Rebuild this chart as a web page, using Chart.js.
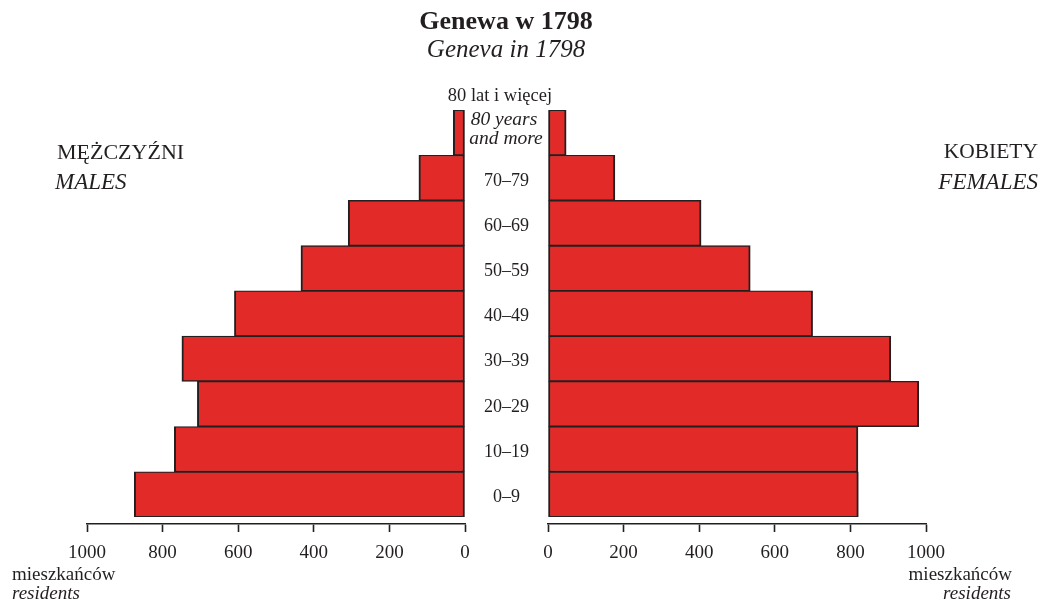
<!DOCTYPE html>
<html>
<head>
<meta charset="utf-8">
<script src="https://cdn.jsdelivr.net/npm/chart.js@4"></script>
<style>
  html, body { margin: 0; padding: 0; background: #fff; }
  #wrap { position: relative; width: 1043px; height: 601px; overflow: hidden; font-family: "Liberation Serif", "DejaVu Serif", serif; color: #231f20; }
  .t { position: absolute; line-height: 1; white-space: nowrap; }
  .c { transform: translate(-50%, -50%); }
  .l { transform: translate(0, -50%); }
  .r { transform: translate(-100%, -50%); }
  canvas { position: absolute; top: 0; }
</style>
</head>
<body>
<div id="wrap">
  <canvas id="left" style="left:0px;"></canvas>
  <canvas id="right" style="left:464px;"></canvas>

  <div class="t c" style="left:506px; top:21px; font-size:26px; font-weight:bold;">Genewa w 1798</div>
  <div class="t c" style="left:506px; top:48px; font-size:25px; font-style:italic;">Geneva in 1798</div>

  <div class="t c" style="left:500px; top:95px; font-size:18.5px;">80 lat i więcej</div>
  <div class="t c" style="left:504px; top:119px; font-size:19.5px; font-style:italic;">80 years</div>
  <div class="t c" style="left:506px; top:138px; font-size:19.5px; font-style:italic;">and more</div>

  <div class="t l" style="left:57px; top:152px; font-size:22px;">MĘŻCZYŹNI</div>
  <div class="t l" style="left:55px; top:181px; font-size:23px; font-style:italic;">MALES</div>
  <div class="t r" style="left:1038px; top:152px; font-size:21.5px;">KOBIETY</div>
  <div class="t r" style="left:1038px; top:181px; font-size:23px; font-style:italic;">FEMALES</div>

  <div class="t l" style="left:12px; top:573px; font-size:19px;">mieszkańców</div>
  <div class="t l" style="left:12px; top:592px; font-size:19px; font-style:italic;">residents</div>
  <div class="t r" style="left:1012px; top:573px; font-size:19px;">mieszkańców</div>
  <div class="t r" style="left:1011px; top:592px; font-size:19px; font-style:italic;">residents</div>
</div>
<script>
// Data (top row first)
const ageGroups = ['80+', '70–79', '60–69', '50–59', '40–49', '30–39', '20–29', '10–19', '0–9'];
const males   = [31, 122, 309, 434, 610, 749, 708, 769, 875];
const females = [48, 177, 405, 535, 700, 907, 981, 820, 821];
const axisTicks = [0, 200, 400, 600, 800, 1000];

const INK = '#231f20';
const RED = '#e22b28';
const FONT = 'Liberation Serif';

function makeChart(id, width, data, side) {
  const cv = document.getElementById(id);
  cv.width = width; cv.height = 601;
  cv.style.width = width + 'px'; cv.style.height = '601px';
  const isLeft = side === 'left';
  return new Chart(cv, {
    type: 'bar',
    data: {
      labels: ageGroups,
      datasets: [{
        data: data,
        backgroundColor: RED,
        borderColor: INK,
        borderWidth: { top: 1.3, bottom: 1.3, left: 2, right: 2 },
        borderSkipped: false,
        barPercentage: 1,
        categoryPercentage: 1,
        xAxisID: 'x',
        yAxisID: 'y'
      }]
    },
    options: {
      indexAxis: 'y',
      responsive: false,
      animation: false,
      devicePixelRatio: 1,
      layout: {
        padding: isLeft
          ? { left: 87, right: 35, top: 110, bottom: 27 }
          : { left: 0, right: 117, top: 110, bottom: 27 }
      },
      plugins: { legend: { display: false }, tooltip: { enabled: false }, title: { display: false } },
      scales: {
        x: {
          type: 'linear',
          position: 'bottom',
          weight: 1,
          reverse: isLeft,
          min: 0,
          max: 1000,
          afterBuildTicks: (s) => { s.ticks = axisTicks.map(v => ({ value: v })); },
          afterFit: (s) => { s.height = 50; },
          grid: { display: true, drawOnChartArea: false, drawTicks: true, tickLength: 8, tickWidth: 1.6, tickColor: INK },
          border: { display: true, color: INK, width: 1.6 },
          ticks: {
            color: INK, font: { family: FONT, size: 19 }, padding: 10, maxRotation: 0, autoSkip: false,
            callback: (v) => String(v)
          }
        },
        spacer: {
          type: 'linear',
          position: 'bottom',
          weight: 0,
          display: true,
          afterFit: (s) => { s.height = 7; },
          grid: { display: false, drawTicks: false },
          border: { display: false },
          ticks: { display: false }
        },
        y: {
          type: 'category',
          position: 'left',
          display: !isLeft,
          afterFit: (s) => { s.width = isLeft ? 0 : 84; },
          grid: { display: false, drawTicks: false },
          border: { display: false },
          ticks: {
            color: INK,
            font: { family: FONT, size: 18 },
            crossAlign: 'center',
            padding: 19,
            labelOffset: 3,
            autoSkip: false,
            callback: (v, i) => (i === 0 ? '' : ageGroups[i])
          }
        }
      }
    }
  });
}

makeChart('left', 500, males, 'left');
makeChart('right', 579, females, 'right');
</script>
</body>
</html>
